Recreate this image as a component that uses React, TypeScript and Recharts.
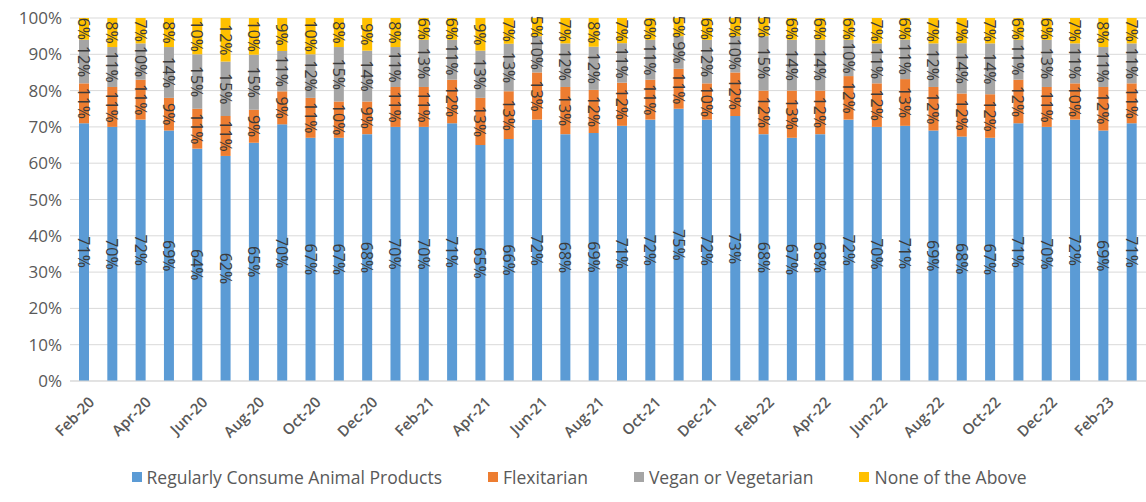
import React from 'react';
import { BarChart, Bar, XAxis, YAxis, CartesianGrid, Legend, LabelList } from 'recharts';

const months = [
  'Feb-20', 'Mar-20', 'Apr-20', 'May-20', 'Jun-20', 'Jul-20', 'Aug-20', 'Sep-20', 'Oct-20', 'Nov-20', 'Dec-20',
  'Jan-21', 'Feb-21', 'Mar-21', 'Apr-21', 'May-21', 'Jun-21', 'Jul-21', 'Aug-21', 'Sep-21', 'Oct-21', 'Nov-21', 'Dec-21',
  'Jan-22', 'Feb-22', 'Mar-22', 'Apr-22', 'May-22', 'Jun-22', 'Jul-22', 'Aug-22', 'Sep-22', 'Oct-22', 'Nov-22', 'Dec-22',
  'Jan-23', 'Feb-23', 'Mar-23',
];

const animal = [71, 70, 72, 69, 64, 62, 65, 70, 67, 67, 68, 70, 70, 71, 65, 66, 72, 68, 69, 71, 72, 75, 72, 73, 68, 67, 68, 72, 70, 71, 69, 68, 67, 71, 70, 72, 69, 71];
const flexitarian = [11, 11, 11, 9, 11, 11, 9, 9, 11, 10, 9, 11, 11, 12, 13, 13, 13, 13, 12, 12, 11, 11, 10, 12, 12, 13, 12, 12, 12, 13, 12, 12, 12, 12, 11, 10, 12, 11];
const vegan = [12, 11, 10, 14, 15, 15, 15, 11, 12, 15, 14, 11, 13, 11, 13, 13, 10, 12, 12, 11, 11, 9, 12, 10, 15, 14, 14, 10, 11, 11, 12, 14, 14, 11, 13, 11, 11, 11];
const none = [6, 8, 7, 8, 10, 12, 10, 9, 10, 8, 9, 8, 6, 6, 9, 7, 5, 7, 8, 7, 6, 5, 6, 5, 5, 6, 6, 6, 7, 6, 7, 7, 7, 6, 6, 7, 8, 7];

const yTicks = [0, 0.1, 0.2, 0.3, 0.4, 0.5, 0.6, 0.7, 0.8, 0.9, 1];

const series = [
  { key: 'animal', name: 'Regularly Consume Animal Products', color: '#5B9BD5' },
  { key: 'flex', name: 'Flexitarian', color: '#ED7D31' },
  { key: 'vegan', name: 'Vegan or Vegetarian', color: '#A5A5A5' },
  { key: 'none', name: 'None of the Above', color: '#FFC000' },
];

const data = months.map((m, i) => ({
  month: m,
  animal: animal[i],
  flex: flexitarian[i],
  vegan: vegan[i],
  none: none[i],
}));

const FONT = 'Open Sans, Noto Sans, sans-serif';

const SegmentLabel = (props: any) => {
  const { x, y, width, height, value } = props;
  const cx = x + width / 2;
  const cy = y + height / 2;
  return (
    <text
      x={cx}
      y={cy}
      transform={`rotate(90, ${cx}, ${cy})`}
      textAnchor="middle"
      dominantBaseline="central"
      fill="#3a3a3a"
      fontSize={16}
      fontFamily={FONT}
    >
      {value}%
    </text>
  );
};

const MonthTick = (props: any) => {
  const { x, y, payload } = props;
  return (
    <text
      x={x + 7}
      y={y + 10}
      transform={`rotate(-45, ${x + 7}, ${y + 10})`}
      textAnchor="end"
      dominantBaseline="central"
      fill="#595959"
      fontSize={15}
      fontWeight={600}
      fontFamily={FONT}
    >
      {payload.value}
    </text>
  );
};

const LegendBox = () => (
  <div style={{ display: 'flex', justifyContent: 'center', gap: 46, paddingTop: 14, paddingLeft: 12, fontFamily: FONT, fontSize: 17.5, color: '#595959' }}>
    {series.map(s => (
      <div key={s.key} style={{ display: 'flex', alignItems: 'center' }}>
        <span style={{ width: 10, height: 10, background: s.color, display: 'inline-block', marginRight: 5 }} />
        <span>{s.name}</span>
      </div>
    ))}
  </div>
);

export default function App() {
  return (
    <div style={{ position: 'absolute', left: 0, top: 0, background: '#fff' }}>
      <BarChart
        width={1146}
        height={502}
        data={data}
        stackOffset="expand"
        margin={{ top: 18, right: 0, bottom: 0, left: 0 }}
        barSize={10}
      >
        <CartesianGrid vertical={false} stroke="#d9d9d9" />
        <XAxis
          dataKey="month"
          interval={1}
          tick={<MonthTick />}
          tickLine={false}
          axisLine={{ stroke: '#d9d9d9' }}
          height={70}
        />
        <YAxis
          domain={[0, 1]}
          ticks={yTicks}
          tickFormatter={(v: number) => `${Math.round(v * 100)}%`}
          axisLine={false}
          tickLine={false}
          width={70}
          tick={{ fill: '#595959', fontSize: 17, fontFamily: FONT }}
        />
        <Legend verticalAlign="bottom" height={51} content={<LegendBox />} />
        {series.map(s => (
          <Bar key={s.key} dataKey={s.key} name={s.name} stackId="a" fill={s.color} isAnimationActive={false}>
            <LabelList dataKey={s.key} content={<SegmentLabel />} />
          </Bar>
        ))}
      </BarChart>
    </div>
  );
}
